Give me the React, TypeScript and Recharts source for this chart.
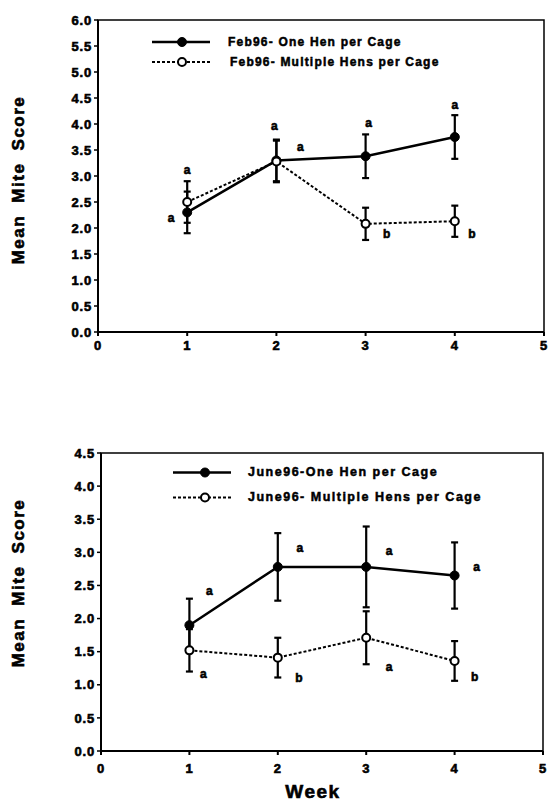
import React from 'react';
import { LineChart, Line, XAxis, YAxis, ErrorBar, ReferenceArea, Legend, LabelList } from 'recharts';

const weeks = [1, 2, 3, 4];
const xTicks = [0, 1, 2, 3, 4, 5];

const febNames = ['Feb96- One Hen per Cage', 'Feb96- Multiple Hens per Cage'];
const febOneHen = [2.3, 3.3, 3.38, 3.75];
const febOneHenErr = [0.4, 0.4, 0.42, 0.42];
const febOneHenLetters = ['a', 'a', 'a', 'a'];
const febMulti = [2.5, 3.28, 2.08, 2.13];
const febMultiErr = [0.4, 0.4, 0.31, 0.3];
const febMultiLetters = ['a', 'a', 'b', 'b'];
const febYTicks = [0, 0.5, 1, 1.5, 2, 2.5, 3, 3.5, 4, 4.5, 5, 5.5, 6];

const juneNames = ['June96-One Hen per Cage', 'June96- Multiple Hens per Cage'];
const juneOneHen = [1.9, 2.78, 2.78, 2.65];
const juneOneHenErr = [0.4, 0.51, 0.61, 0.5];
const juneOneHenLetters = ['a', 'a', 'a', 'a'];
const juneMulti = [1.52, 1.41, 1.71, 1.36];
const juneMultiErr = [0.32, 0.3, 0.4, 0.3];
const juneMultiLetters = ['a', 'b', 'a', 'b'];
const juneYTicks = [0, 0.5, 1, 1.5, 2, 2.5, 3, 3.5, 4, 4.5];

const yLabel = 'Mean Mite Score';
const xLabel = 'Week';

const FONT = '"Liberation Sans", Arial, Helvetica, sans-serif';

type Off = [number, number];

function buildData(one: number[], oneErr: number[], oneL: string[], multi: number[], multiErr: number[], multiL: string[]) {
  return weeks.map((w, i) => ({
    week: w,
    one: one[i],
    oneErr: oneErr[i],
    oneLetter: oneL[i],
    multi: multi[i],
    multiErr: multiErr[i],
    multiLetter: multiL[i],
  }));
}

function letterRenderer(offsets: Off[]) {
  return (p: any) => {
    const { x, y, value, index } = p;
    if (x == null || y == null) return null;
    const o = offsets[index] || [0, 0];
    return (
      <text
        x={x + o[0]}
        y={y + o[1]}
        textAnchor="middle"
        dominantBaseline="central"
        fontFamily={FONT}
        fontWeight={700}
        fontSize={12}
        stroke="#000"
        strokeWidth={0.6}
        fill="#000"
      >
        {value}
      </text>
    );
  };
}

function legendRenderer(rowH: number, dotX: number, textX: number[], fontSize: number, ls: number) {
  return (props: any) => {
    const raw = (props.payload || []) as any[];
    const payload = [...raw].sort((a, b) => {
      const da = a.payload && a.payload.strokeDasharray ? 1 : 0;
      const db = b.payload && b.payload.strokeDasharray ? 1 : 0;
      return da - db;
    });
    return (
      <div style={{ fontFamily: FONT }}>
        {payload.map((entry: any, i: number) => {
          const dotted = !!(entry.payload && entry.payload.strokeDasharray);
          return (
            <div key={i} style={{ position: 'relative', height: rowH, width: 340 }}>
              <svg width={62} height={rowH} style={{ position: 'absolute', left: 0, top: 0 }}>
                <line
                  x1={0}
                  x2={58}
                  y1={rowH / 2}
                  y2={rowH / 2}
                  stroke="#000"
                  strokeWidth={dotted ? 2 : 2.5}
                  strokeDasharray={dotted ? '3 2' : undefined}
                />
                <circle
                  cx={dotX}
                  cy={rowH / 2}
                  r={dotted ? 4 : 4.5}
                  fill={dotted ? '#fff' : '#000'}
                  stroke="#000"
                  strokeWidth={dotted ? 2 : 1}
                />
              </svg>
              <span
                style={{
                  position: 'absolute',
                  left: textX[i],
                  top: 0,
                  lineHeight: rowH + 'px',
                  fontSize,
                  fontWeight: 700,
                  letterSpacing: ls,
                  whiteSpace: 'nowrap',
                  color: '#000',
                  WebkitTextStroke: '0.5px #000',
                }}
              >
                {entry.value}
              </span>
            </div>
          );
        })}
      </div>
    );
  };
}

type PanelProps = {
  top: number;
  height: number;
  margin: { top: number; right: number; bottom: number; left: number };
  yWidth: number;
  xHeight: number;
  xTickMargin: number;
  yTicks: number[];
  yMax: number;
  names: string[];
  data: any[];
  oneOffsets: Off[];
  multiOffsets: Off[];
  legendLeft: number;
  legendTop: number;
  legendRowH: number;
  legendDotX: number;
  legendTextX: number[];
  legendFont: number;
  legendLs: number;
  yLabelX: number;
  yLabelY: number;
  showXLabel: boolean;
};

function Panel(p: PanelProps) {
  const tickStyle = {
    fill: '#000',
    fontSize: 13,
    fontWeight: 700,
    fontFamily: FONT,
    letterSpacing: 0.8,
    stroke: '#000',
    strokeWidth: 0.6,
  } as any;
  return (
    <div style={{ position: 'absolute', left: 0, top: p.top, width: 548, height: p.height }}>
      <LineChart width={548} height={p.height} data={p.data} margin={p.margin}>
        <XAxis
          dataKey="week"
          type="number"
          domain={[0, 5]}
          ticks={xTicks}
          interval={0}
          axisLine={{ stroke: '#000', strokeWidth: 2 }}
          tickLine={{ stroke: '#000', strokeWidth: 2 }}
          tickSize={4}
          tickMargin={p.xTickMargin}
          height={p.xHeight}
          tick={tickStyle}
          label={
            p.showXLabel
              ? {
                  content: () => (
                    <text
                      x={313}
                      y={371}
                      textAnchor="middle"
                      dominantBaseline="central"
                      fontFamily={FONT}
                      fontWeight={700}
                      fontSize={19}
                      letterSpacing={1.5}
                      stroke="#000"
                      strokeWidth={0.6}
                      fill="#000"
                    >
                      {xLabel}
                    </text>
                  ),
                }
              : undefined
          }
        />
        <YAxis
          type="number"
          domain={[0, p.yMax]}
          ticks={p.yTicks}
          interval={0}
          width={p.yWidth}
          axisLine={{ stroke: '#000', strokeWidth: 2 }}
          tickLine={{ stroke: '#000', strokeWidth: 1.5 }}
          tickSize={4}
          tickMargin={2}
          tick={tickStyle}
          tickFormatter={(v: number) => v.toFixed(1)}
          label={{
            content: () => (
              <text
                x={p.yLabelX}
                y={p.yLabelY}
                transform={`rotate(-90 ${p.yLabelX} ${p.yLabelY})`}
                textAnchor="middle"
                dominantBaseline="central"
                fontFamily={FONT}
                fontWeight={700}
                fontSize={17}
                letterSpacing={1.5}
                wordSpacing={6}
                stroke="#000"
                strokeWidth={0.6}
                fill="#000"
              >
                {yLabel}
              </text>
            ),
          }}
        />
        <ReferenceArea
          x1={0}
          x2={5}
          y1={0}
          y2={p.yMax}
          fill="none"
          stroke="#000"
          strokeWidth={1.5}
          ifOverflow="visible"
        />
        <Legend
          layout="vertical"
          align="center"
          verticalAlign="middle"
          wrapperStyle={{ position: 'absolute', left: p.legendLeft, top: p.legendTop, width: 340 }}
          content={legendRenderer(p.legendRowH, p.legendDotX, p.legendTextX, p.legendFont, p.legendLs)}
        />
        <Line
          name={p.names[0]}
          dataKey="one"
          type="linear"
          stroke="#000"
          strokeWidth={2.5}
          dot={{ r: 4.5, fill: '#000', stroke: '#000', strokeWidth: 1 }}
          activeDot={false}
          isAnimationActive={false}
        >
          <ErrorBar dataKey="oneErr" direction="y" width={3.5} strokeWidth={2.2} stroke="#000" />
          <LabelList dataKey="oneLetter" content={letterRenderer(p.oneOffsets)} />
        </Line>
        <Line
          name={p.names[1]}
          dataKey="multi"
          type="linear"
          stroke="#000"
          strokeWidth={2}
          strokeDasharray="3 2"
          dot={{ r: 4, fill: '#fff', stroke: '#000', strokeWidth: 2, strokeDasharray: '' }}
          activeDot={false}
          isAnimationActive={false}
        >
          <ErrorBar dataKey="multiErr" direction="y" width={3.5} strokeWidth={2.2} stroke="#000" />
          <LabelList dataKey="multiLetter" content={letterRenderer(p.multiOffsets)} />
        </Line>
      </LineChart>
    </div>
  );
}

export default function App() {
  const febData = buildData(febOneHen, febOneHenErr, febOneHenLetters, febMulti, febMultiErr, febMultiLetters);
  const juneData = buildData(juneOneHen, juneOneHenErr, juneOneHenLetters, juneMulti, juneMultiErr, juneMultiLetters);
  return (
    <div style={{ position: 'absolute', left: 0, top: 0, width: 548, height: 803, background: '#fff', overflow: 'hidden' }}>
      <Panel
        top={0}
        height={380}
        margin={{ top: 20, right: 4, bottom: 18, left: 0 }}
        yWidth={98}
        xHeight={30}
        xTickMargin={5}
        yTicks={febYTicks}
        yMax={6}
        names={febNames}
        data={febData}
        oneOffsets={[[-16, 6], [24, -13], [3, -33], [0, -32]]}
        multiOffsets={[[0, -32], [-2, -35], [21, 10], [17, 13]]}
        legendLeft={152}
        legendTop={32}
        legendRowH={20}
        legendDotX={30}
        legendTextX={[76, 78]}
        legendFont={12}
        legendLs={1.2}
        yLabelX={18}
        yLabelY={180}
        showXLabel={false}
      />
      <Panel
        top={420}
        height={383}
        margin={{ top: 33, right: 5, bottom: 0, left: 0 }}
        yWidth={101}
        xHeight={52}
        xTickMargin={9}
        yTicks={juneYTicks}
        yMax={4.5}
        names={juneNames}
        data={juneData}
        oneOffsets={[[20, -34], [22, -19], [23, -16], [22, -9]]}
        multiOffsets={[[14, 24], [21, 20], [23, 29], [20, 16]]}
        legendLeft={173}
        legendTop={40}
        legendRowH={25}
        legendDotX={32}
        legendTextX={[75, 75]}
        legendFont={12.5}
        legendLs={1.5}
        yLabelX={18}
        yLabelY={163}
        showXLabel={true}
      />
    </div>
  );
}
